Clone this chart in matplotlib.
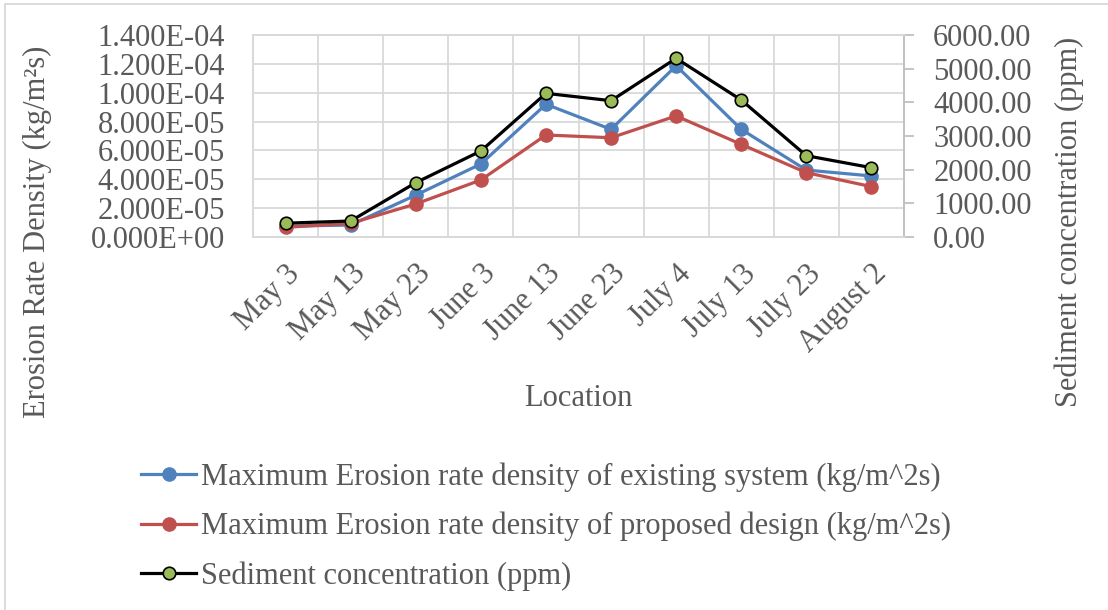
import matplotlib
matplotlib.use("Agg")
import matplotlib.pyplot as plt
from matplotlib.ticker import FuncFormatter, MultipleLocator, FixedLocator

plt.rcParams['font.family'] = ['Liberation Serif', 'DejaVu Serif']

dates = ["May 3", "May 13", "May 23", "June 3", "June 13", "June 23",
         "July 4", "July 13", "July 23", "August 2"]

# erosion rate densities (kg/m^2 s)
existing = [7.5e-6, 8.3e-6, 2.9e-5, 5.06e-5, 9.2e-5, 7.46e-5,
            1.187e-4, 7.46e-5, 4.64e-5, 4.23e-5]
proposed = [6.7e-6, 9.5e-6, 2.29e-5, 3.95e-5, 7.07e-5, 6.88e-5,
            8.39e-5, 6.42e-5, 4.46e-5, 3.49e-5]
# sediment concentration (ppm)
sediment = [410, 475, 1613, 2554, 4267, 4049, 5307, 4069, 2415, 2059]

BLUE = '#4F81BD'
RED = '#C0504D'
GREEN = '#9BBB59'
TXT = '#595959'
GRID = '#D9D9D9'
FS = 22

fig = plt.figure(figsize=(11.08, 6.10), dpi=100)
ax = fig.add_axes([253 / 1108, 1 - 237 / 610, (904 - 253) / 1108, (237 - 35) / 610])
ax2 = ax.twinx()

x = list(range(len(dates)))
l1, = ax.plot(x, existing, color=BLUE, lw=2.3, marker='o', ms=9.5,
              mec=BLUE, label='Maximum Erosion rate density of existing system (kg/m^2s)')
l2, = ax.plot(x, proposed, color=RED, lw=2.3, marker='o', ms=9.5,
              mec=RED, label='Maximum Erosion rate density of proposed design (kg/m^2s)')
l3, = ax2.plot(x, sediment, color='black', lw=2.3, marker='o', ms=9,
               mfc=GREEN, mec='black', mew=1.2, label='Sediment concentration (ppm)')

ax.set_xlim(-0.5, len(dates) - 0.5)
ax.set_ylim(0, 1.4e-4)
ax2.set_ylim(0, 6000)

ax.yaxis.set_major_locator(MultipleLocator(2e-5))
ax.yaxis.set_major_formatter(FuncFormatter(lambda v, p: f"{v:.3E}"))
ax2.yaxis.set_major_locator(MultipleLocator(1000))
ax2.yaxis.set_major_formatter(FuncFormatter(lambda v, p: f"{v:.2f}"))

ax.set_xticks(x)
ax.set_xticklabels(dates, rotation=45, ha='right', rotation_mode='anchor')
ax.xaxis.set_minor_locator(FixedLocator([i + 0.5 for i in range(-1, len(dates))]))

ax.grid(True, which='major', axis='y', color=GRID, lw=1.3)
ax.grid(True, which='minor', axis='x', color=GRID, lw=1.3)
ax.set_axisbelow(True)

for a in (ax, ax2):
    for s in a.spines.values():
        s.set_color(GRID)
        s.set_linewidth(1.3)
ax2.spines['right'].set_color('#BFBFBF')

ax.tick_params(axis='y', length=0, pad=20, labelsize=FS, labelcolor=TXT)
ax.tick_params(axis='x', which='both', length=0, pad=16, labelsize=FS, labelcolor=TXT)
ax2.tick_params(axis='y', length=7, width=1.3, color='#BFBFBF', pad=14,
                labelsize=FS, labelcolor=TXT)

fig.text(37 / 1108, 1 - 232 / 610, 'Erosion Rate Density (kg/m²s)', rotation=90,
         ha='center', va='center', fontsize=FS, color=TXT)
fig.text(1069 / 1108, 1 - 222 / 610, 'Sediment concentration (ppm)', rotation=90,
         ha='center', va='center', fontsize=FS, color=TXT)
fig.text(578 / 1108, 1 - 398 / 610, 'Location', ha='center', va='center',
         fontsize=FS, color=TXT)

leg = fig.legend(handles=[l1, l2, l3], loc='upper left',
                 bbox_to_anchor=(129 / 1108, 1 - 450 / 610), frameon=False,
                 fontsize=FS, handlelength=1.8, handletextpad=0.15,
                 labelspacing=0.66, borderaxespad=0)
for t in leg.get_texts():
    t.set_color(TXT)

# chart frame
fig.patches.append(plt.Rectangle((5 / 1108, -0.1), 1.2, 1 - 4 / 610 + 0.1,
                                 transform=fig.transFigure, fill=False,
                                 edgecolor=GRID, lw=1.3))

fig.savefig('out.png', dpi=100)
